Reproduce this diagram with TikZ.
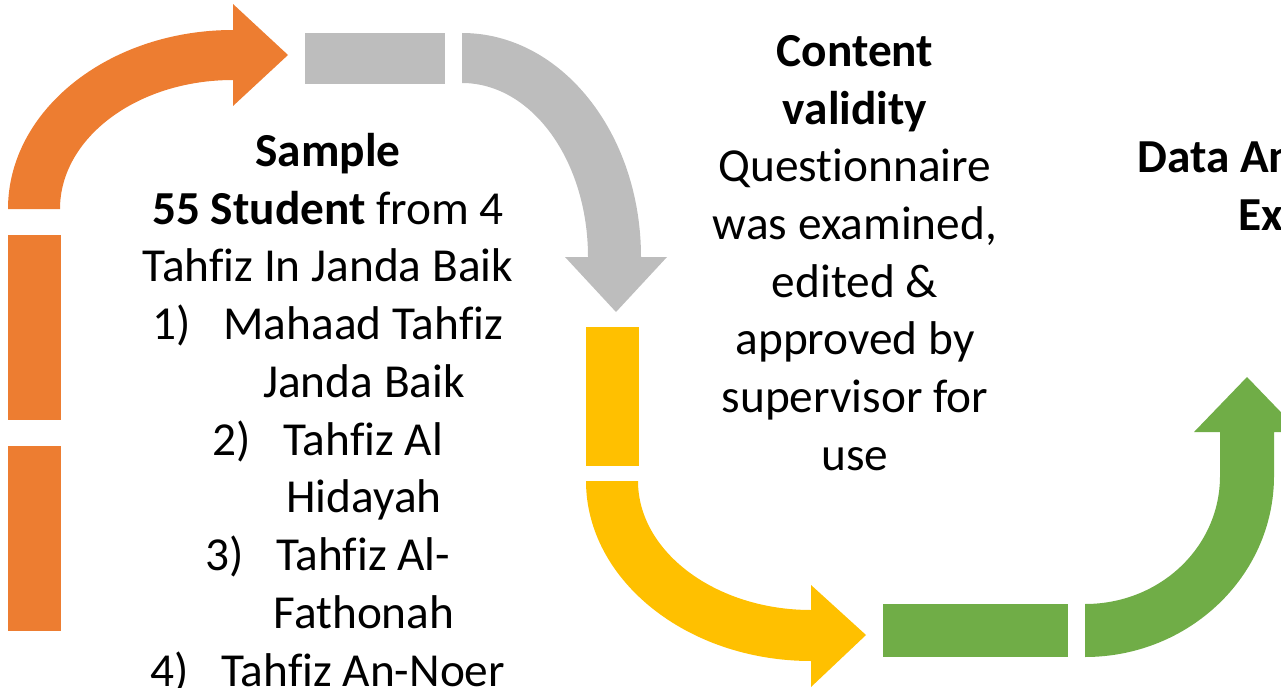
\documentclass[tikz,border=0pt]{standalone}
\usepackage{fontspec}
\setmainfont[Ligatures=NoCommon]{Carlito}
\usetikzlibrary{positioning}

\definecolor{flowOrange}{HTML}{ED7D31}
\definecolor{flowGray}{HTML}{BDBDBD}
\definecolor{flowYellow}{HTML}{FFC000}
\definecolor{flowGreen}{HTML}{70AD47}

\newcommand\numline[2]{\makebox[53pt][l]{#1}#2}
\newcommand\contline[1]{\hspace*{54pt}#1}

\begin{document}
\begin{tikzpicture}[x=0.75pt, y=-0.75pt,
        txt/.style = {inner sep=0pt, align=center,
                      font=\fontsize{35.5}{43.3}\selectfont} ]

   \useasboundingbox (0,0) rectangle (1281,688);
   \clip (0,0) rectangle (1281,688);

   % orange: up and round to the right
   \fill[flowOrange] (8,235) rectangle (61,420);
   \fill[flowOrange] (8,446) rectangle (61,631);
   \fill[flowOrange] (8,209) .. controls (8,110) and (109,30) .. (233,30)
        -- (233,4) -- (288,55) -- (233,106) -- (233,80)
        .. controls (137,80) and (60,138) .. (60,209) -- cycle;

   % gray: right and round down
   \fill[flowGray] (305,33) rectangle (445,84);
   \fill[flowGray] (462,33) .. controls (561,33) and (641,133) .. (641,257)
        -- (667,257) -- (616,312) -- (565,257) -- (588,257)
        .. controls (588,161) and (532,83) .. (462,83) -- cycle;

   % yellow: down and round to the right
   \fill[flowYellow] (586,327) rectangle (639,466);
   \fill[flowYellow] (586,481) .. controls (586,580) and (687,661) .. (811,661)
        -- (811,687) -- (866,635) -- (811,585) -- (811,610)
        .. controls (716,610) and (638,552) .. (638,481) -- cycle;

   % green: right and round up
   \fill[flowGreen] (883,604) rectangle (1068,657);
   \fill[flowGreen] (1085,657) .. controls (1189,657) and (1274,576) .. (1274,476)
        -- (1274,432) -- (1300,432) -- (1247,377) -- (1194,432) -- (1220,432)
        -- (1220,476) .. controls (1220,547) and (1160,604) .. (1085,604) -- cycle;

   \node (sample) [txt, anchor=north] at (328,133)
   {
      \textbf{Sample}\\
      \textbf{55 Student} from 4\\
      Tahfiz In Janda Baik\\
      \numline{1)}{Mahaad Tahfiz}\\
      \contline{Janda Baik}\\
      \numline{2)}{Tahfiz Al}\\
      \contline{Hidayah}\\
      \numline{3)}{Tahfiz Al-}\\
      \contline{Fathonah}\\
      \numline{4)}{Tahfiz An-Noer}
   };

   \node (validity) [txt, anchor=north] at (855,35)
   {
      \textbf{Content}\\
      \textbf{validity}\\
      Questionnaire\\
      was examined,\\
      edited \&\\
      approved by\\
      supervisor for\\
      use
   };

   \node (analysis) [txt, anchor=base west] at (1137,173) {\textbf{Data An}};
   \node (excel)    [txt, anchor=base west] at (1238,230) {\textbf{Ex}};
\end{tikzpicture}
\end{document}
